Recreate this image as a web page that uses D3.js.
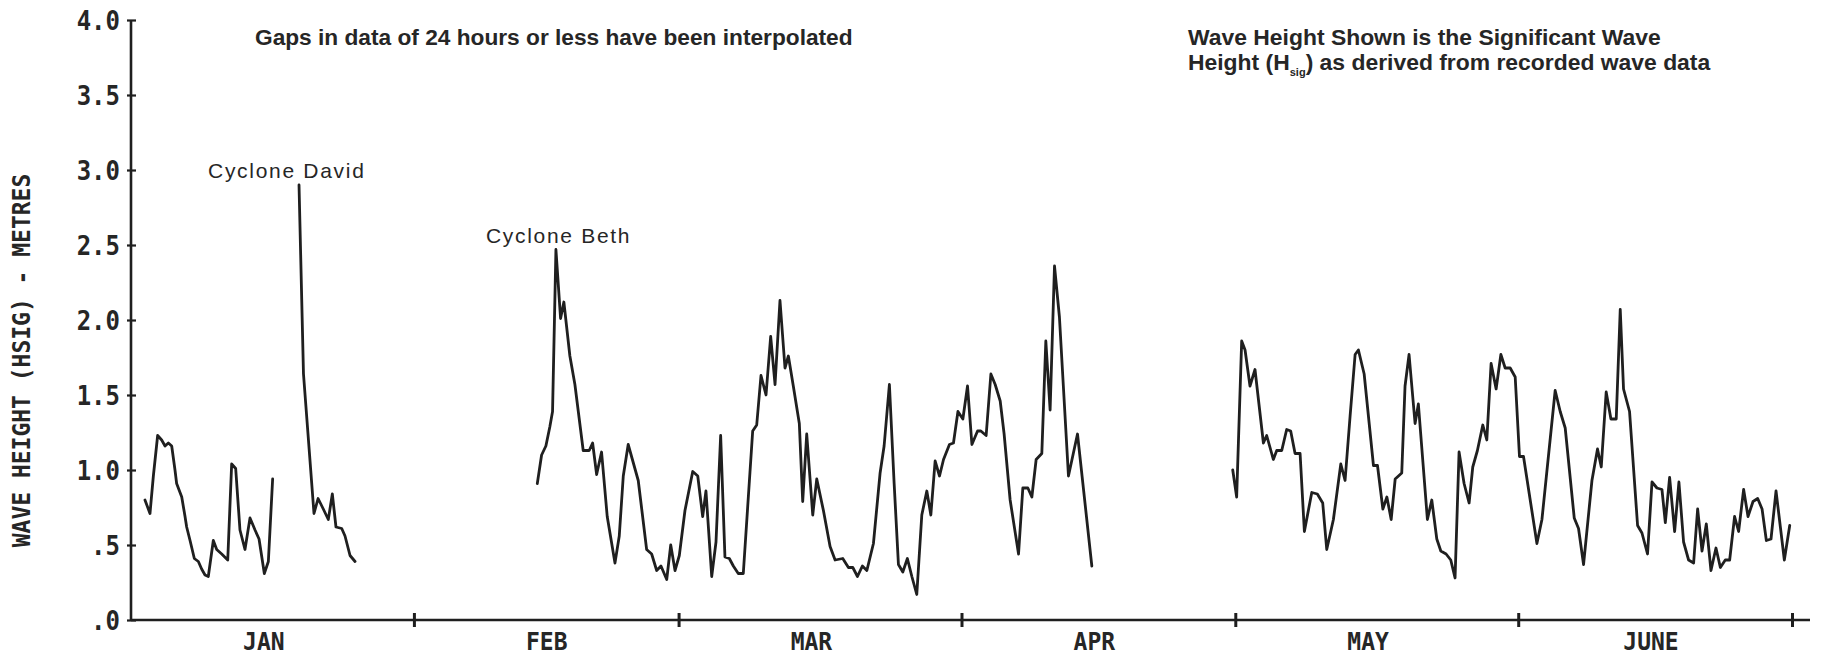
<!DOCTYPE html>
<html>
<head>
<meta charset="utf-8">
<script src="https://cdn.jsdelivr.net/npm/d3@7"></script>
<style>
  html, body { margin: 0; padding: 0; background: #fff; }
  svg { display: block; }
</style>
</head>
<body>
<svg id="chart" width="1825" height="657"></svg>
<script>
// Significant wave height record, January - June 1976.
// Each record is [days since 1 Jan, Hsig in metres]; gaps split the record into runs.
const janEarly = [
  [1.53,0.80],[2.08,0.71],[2.45,0.96],[2.92,1.23],[3.36,1.20],[3.73,1.16],[4.09,1.18],[4.46,1.16],
  [4.82,1.00],[5.00,0.91],[5.56,0.82],[5.92,0.69],[6.10,0.62],[6.47,0.53],[6.94,0.41],[7.38,0.39],
  [7.74,0.34],[8.11,0.30],[8.47,0.29],[9.02,0.53],[9.39,0.47],[9.94,0.44],[10.6,0.40],[11.03,1.04],
  [11.47,1.01],[11.94,0.60],[12.49,0.47],[13.04,0.68],[13.59,0.60],[14.03,0.54],[14.61,0.31],
  [15.05,0.39],[15.52,0.94]
];
const janDavid = [
  [18.41,2.90],[18.9,1.64],[20.05,0.71],[20.5,0.81],[21.07,0.74],[21.62,0.67],[22.06,0.84],
  [22.46,0.62],[23.09,0.61],[23.45,0.56],[24.0,0.43],[24.55,0.39]
];
const febToApr = [
  [44.52,0.91],[44.99,1.10],[45.46,1.16],[45.9,1.29],[46.19,1.39],[46.56,2.47],[47.07,2.01],[47.43,2.12],
  [48.09,1.76],[48.64,1.57],[49.55,1.13],[50.21,1.13],[50.58,1.18],[51.02,0.97],[51.56,1.12],[52.18,0.69],
  [53.03,0.38],[53.5,0.56],[53.94,0.96],[54.48,1.17],[55.58,0.93],[56.5,0.47],[57.05,0.44],[57.6,0.33],
  [58.07,0.36],[58.7,0.27],[59.14,0.50],[59.61,0.33],[60.08,0.43],[60.7,0.73],[61.55,0.99],[62.1,0.96],
  [62.64,0.69],[63.0,0.86],[63.63,0.29],[64.1,0.52],[64.61,1.23],[65.08,0.42],[65.56,0.41],[66.0,0.36],
  [66.54,0.31],[67.09,0.31],[68.12,1.26],[68.56,1.30],[69.03,1.63],[69.58,1.50],[70.09,1.89],[70.57,1.57],
  [71.11,2.13],[71.66,1.68],[72.03,1.76],[72.57,1.56],[73.23,1.31],[73.6,0.79],[74.04,1.24],[74.7,0.70],
  [75.14,0.94],[75.87,0.73],[76.6,0.49],[77.15,0.40],[77.99,0.41],[78.61,0.35],[79.09,0.35],[79.6,0.29],
  [80.14,0.36],[80.63,0.33],[81.35,0.51],[82.08,0.98],[82.52,1.16],[83.1,1.57],[83.62,0.91],[84.09,0.37],
  [84.57,0.32],[85.07,0.41],[85.56,0.29],[86.1,0.17],[86.65,0.70],[87.2,0.86],[87.64,0.70],[88.11,1.06],
  [88.59,0.96],[89.03,1.07],[89.68,1.17],[90.12,1.18],[90.61,1.39],[91.15,1.34],[91.66,1.56],[92.14,1.17],
  [92.76,1.26],[93.12,1.26],[93.7,1.23],[94.22,1.64],[94.69,1.57],[95.24,1.46],[95.67,1.24],[96.33,0.80],
  [97.25,0.44],[97.72,0.88],[98.27,0.88],[98.71,0.82],[99.18,1.07],[99.8,1.11],[100.24,1.86],[100.71,1.40],
  [101.19,2.36],[101.73,2.02],[102.72,0.96],[103.71,1.24],[105.28,0.36]
];
const mayToJun = [
  [120.72,1.00],[121.15,0.82],[121.7,1.86],[122.07,1.80],[122.61,1.56],[123.16,1.67],[124.08,1.18],[124.44,1.23],
  [125.17,1.07],[125.54,1.13],[126.09,1.13],[126.63,1.27],[127.07,1.26],[127.55,1.11],[128.1,1.11],[128.57,0.59],
  [129.38,0.85],[129.99,0.84],[130.58,0.78],[131.02,0.47],[131.75,0.67],[132.56,1.04],[133.03,0.93],[133.58,1.36],
  [134.13,1.77],[134.49,1.80],[135.12,1.64],[136.14,1.03],[136.58,1.03],[137.17,0.74],[137.61,0.82],[138.08,0.67],
  [138.52,0.94],[139.24,0.98],[139.6,1.56],[140.04,1.77],[140.7,1.31],[141.06,1.44],[142.05,0.67],[142.53,0.80],
  [143.08,0.54],[143.52,0.46],[144.1,0.44],[144.61,0.40],[145.08,0.28],[145.52,1.12],[146.07,0.91],[146.62,0.78],
  [147.02,1.02],[147.53,1.13],[148.12,1.30],[148.56,1.20],[149.03,1.71],[149.58,1.54],[150.1,1.77],[150.57,1.68],
  [151.12,1.68],[151.67,1.62],[152.14,1.09],[152.58,1.09],[154.05,0.51],[154.6,0.67],[156.05,1.53],[156.6,1.39],
  [157.15,1.28],[158.14,0.68],[158.61,0.61],[159.16,0.37],[160.08,0.93],[160.69,1.14],[161.1,1.02],[161.64,1.52],
  [162.16,1.34],[162.74,1.34],[163.18,2.07],[163.54,1.54],[164.2,1.39],[165.08,0.63],[165.56,0.58],[166.17,0.44],
  [166.66,0.92],[167.2,0.88],[167.75,0.87],[168.12,0.65],[168.59,0.95],[169.14,0.59],[169.61,0.92],[170.12,0.52],
  [170.67,0.40],[171.22,0.38],[171.66,0.74],[172.14,0.46],[172.61,0.64],[173.12,0.33],[173.67,0.48],[174.15,0.35],
  [174.69,0.40],[175.17,0.40],[175.71,0.69],[176.15,0.59],[176.7,0.87],[177.18,0.69],[177.73,0.79],[178.24,0.81],
  [178.72,0.74],[179.19,0.53],[179.7,0.54],[180.25,0.86],[181.16,0.40],[181.75,0.63]
];

const yTicks = [0, 0.5, 1.0, 1.5, 2.0, 2.5, 3.0, 3.5, 4.0];
const yTickLabels = [".0", ".5", "1.0", "1.5", "2.0", "2.5", "3.0", "3.5", "4.0"];
const monthLabels = ["JAN", "FEB", "MAR", "APR", "MAY", "JUNE"];
const yTitle = "WAVE HEIGHT (HSIG) - METRES";
const noteGaps = "Gaps in data of 24 hours or less have been interpolated";
const noteHsig1 = "Wave Height Shown is the Significant Wave";
const noteHsig2a = "Height (H";
const noteHsig2sub = "sig";
const noteHsig2b = ") as derived from recorded wave data";
const cyclones = [
  { name: "Cyclone David", day: 18.41 },
  { name: "Cyclone Beth", day: 46.56 }
];

const year = 1976;
const t0 = Date.UTC(year, 0, 1);
const toDate = d => new Date(t0 + d * 864e5);

const svg = d3.select("#chart");
const ink = "#1f1f1f";
const textInk = "#262626";
const plotFont = "'DejaVu Sans Mono', monospace";
const noteFont = "'Liberation Sans', Arial, sans-serif";
const plotStretch = "scale(1,1.1)"; // tall, narrow plotter lettering

const x = d3.scaleUtc()
  .domain([new Date(Date.UTC(year, 0, 1)), new Date(Date.UTC(year, 6, 1))])
  .range([131, 1792]);
const y = d3.scaleLinear().domain([0, 4]).range([620, 20]);

svg.append("rect").attr("width", 1825).attr("height", 657).attr("fill", "#fff");

// Y axis with ticks crossing the spine
const yAxis = svg.append("g")
  .attr("transform", `translate(${x.range()[0]},0)`)
  .call(d3.axisLeft(y).tickValues(yTicks)
    .tickFormat((d, i) => yTickLabels[i]).tickSize(4).tickPadding(7));
yAxis.select(".domain").remove();
yAxis.selectAll(".tick line").attr("x1", 5).attr("x2", -4)
  .attr("stroke", ink).attr("stroke-width", 2.2);
yAxis.selectAll(".tick text")
  .attr("font-family", plotFont).attr("font-weight", "bold")
  .attr("font-size", 24).attr("fill", textInk).attr("dy", "0.36em")
  .attr("transform", plotStretch);
yAxis.append("line")
  .attr("x1", 0).attr("x2", 0)
  .attr("y1", y(4)).attr("y2", y(0))
  .attr("stroke", ink).attr("stroke-width", 2.6);

// X axis: month boundaries as crossing ticks
const monthStarts = d3.utcMonth.range(new Date(Date.UTC(year, 1, 1)), new Date(Date.UTC(year, 6, 2)));
const xAxis = svg.append("g")
  .attr("transform", `translate(0,${y(0)})`)
  .call(d3.axisBottom(x).tickValues(monthStarts).tickFormat("").tickSize(7));
xAxis.select(".domain").remove();
xAxis.selectAll(".tick line").attr("y1", -7).attr("y2", 7)
  .attr("stroke", ink).attr("stroke-width", 3);
xAxis.append("line")
  .attr("x1", x.range()[0]).attr("x2", x.range()[1] + 18)
  .attr("y1", 0).attr("y2", 0)
  .attr("stroke", ink).attr("stroke-width", 2.4);

// Month names near mid-month
const midMonths = d3.utcMonth.range(new Date(Date.UTC(year, 0, 1)), new Date(Date.UTC(year, 6, 1)))
  .map(m => new Date(m.getTime() + 14.5 * 864e5));
const monthAxis = svg.append("g")
  .attr("transform", `translate(0,${y(0)})`)
  .call(d3.axisBottom(x).tickValues(midMonths)
    .tickFormat((d, i) => monthLabels[i]).tickSize(0).tickPadding(19));
monthAxis.select(".domain").remove();
monthAxis.selectAll(".tick text")
  .attr("font-family", plotFont).attr("font-weight", "bold")
  .attr("font-size", 23).attr("fill", textInk).attr("dy", "0.36em")
  .attr("transform", plotStretch);

// Y axis title
svg.append("text")
  .attr("transform", `translate(30,${y(1.73)}) rotate(-90) ${plotStretch}`)
  .attr("text-anchor", "middle")
  .attr("font-family", plotFont).attr("font-weight", "bold")
  .attr("font-size", 23).attr("fill", textInk)
  .text(yTitle);

// Wave height traces
const line = d3.line()
  .x(d => x(toDate(d[0])))
  .y(d => y(d[1]));
svg.append("g")
  .selectAll("path")
  .data([janEarly, janDavid, febToApr, mayToJun])
  .join("path")
  .attr("d", line)
  .attr("fill", "none")
  .attr("stroke", ink)
  .attr("stroke-width", 2.8)
  .attr("stroke-linejoin", "round")
  .attr("stroke-linecap", "round");

// Cyclone annotations above their peaks
const cycloneOffsets = [-91, -70];
const cycloneRise = [7, 7];
svg.append("g")
  .selectAll("text")
  .data(cyclones)
  .join("text")
  .attr("x", (d, i) => x(toDate(d.day)) + cycloneOffsets[i])
  .attr("y", (d, i) => {
    const seg = i === 0 ? janDavid : febToApr;
    const peak = seg.find(p => p[0] === d.day);
    return y(peak[1]) - cycloneRise[i];
  })
  .attr("font-family", noteFont).attr("font-size", 21)
  .attr("letter-spacing", 1.7)
  .attr("fill", textInk)
  .text(d => d.name);

// Notes at the top
svg.append("text")
  .attr("x", 255).attr("y", 45)
  .attr("font-family", noteFont).attr("font-weight", "bold")
  .attr("font-size", 22.7).attr("fill", textInk)
  .text(noteGaps);

const note2 = svg.append("g")
  .attr("font-family", noteFont).attr("font-weight", "bold")
  .attr("font-size", 22.9).attr("fill", textInk);
note2.append("text").attr("x", 1188).attr("y", 45).text(noteHsig1);
const l2 = note2.append("text").attr("x", 1188).attr("y", 70);
l2.append("tspan").text(noteHsig2a);
l2.append("tspan").attr("font-size", 11).attr("dy", 6).text(noteHsig2sub);
l2.append("tspan").attr("dy", -6).text(noteHsig2b);
</script>
</body>
</html>
